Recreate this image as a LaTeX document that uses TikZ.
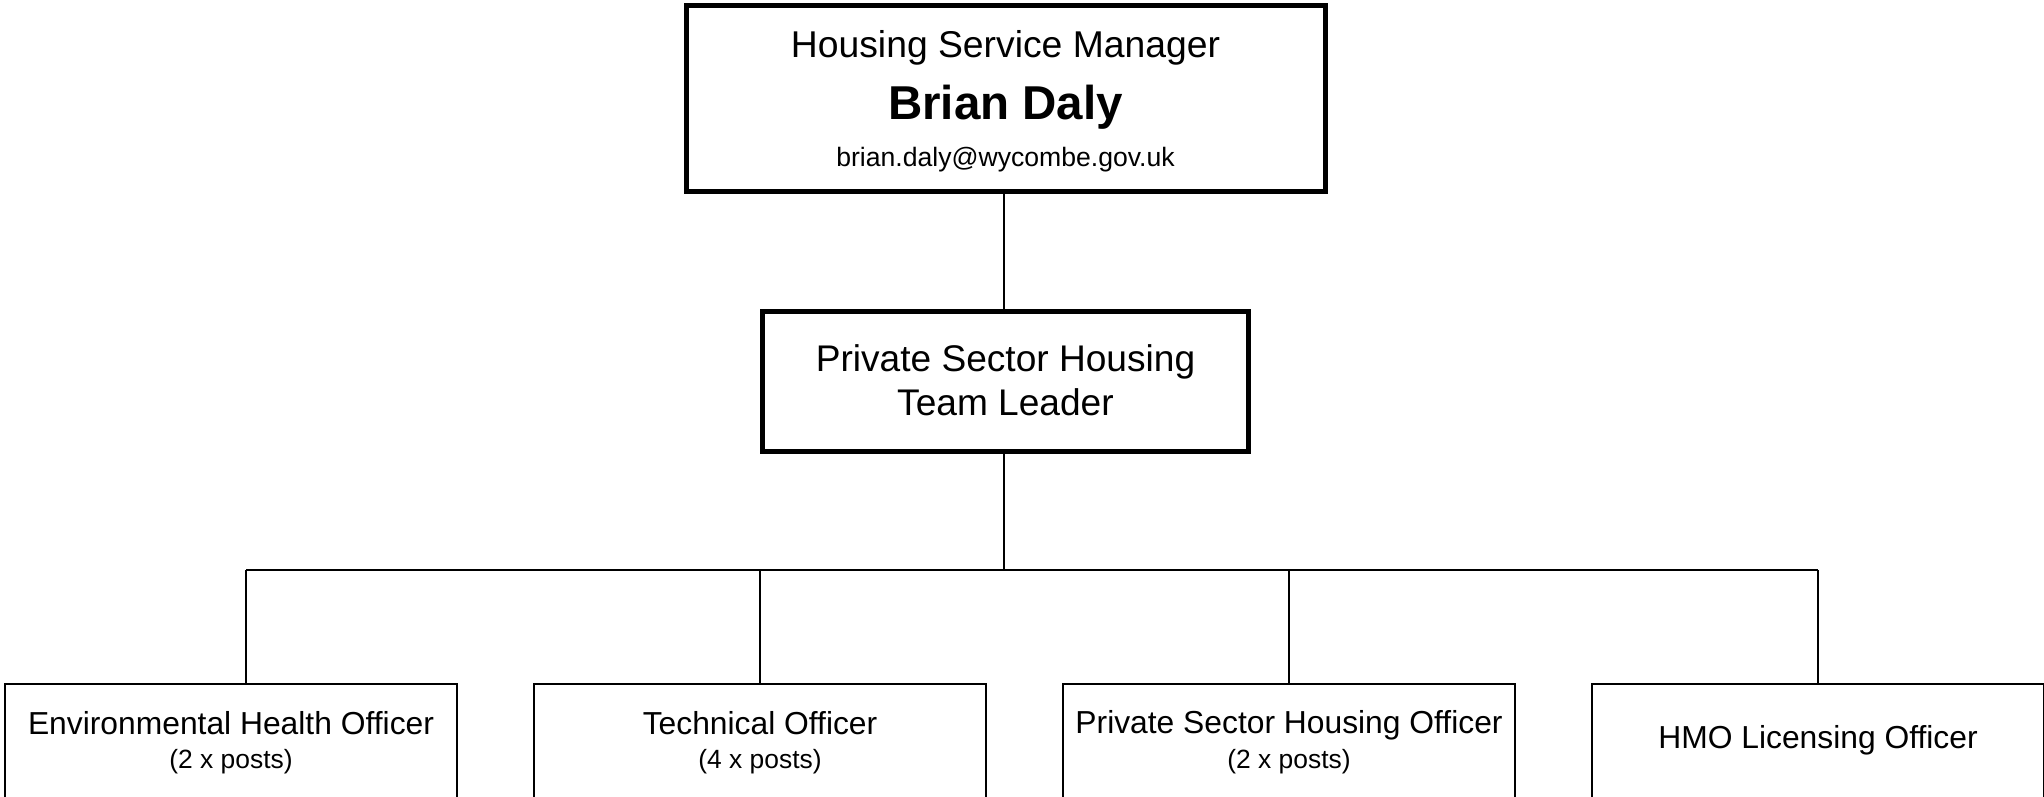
\documentclass[tikz,border=0pt]{standalone}
\usepackage{fontspec}
\setmainfont{Liberation Sans}
\begin{document}
\begin{tikzpicture}[x=1pt,y=-1pt,
  headbox/.style={draw, line width=5pt, inner sep=0pt},
  staffbox/.style={draw, line width=2pt, inner sep=0pt, minimum width=452pt, minimum height=196pt},
  txt/.style={inner sep=0pt, align=center},
  link/.style={line width=2pt}]
\useasboundingbox (0,0) rectangle (2044,797);
\begin{scope}
\clip (0,0) rectangle (2044,797);
% top box
\node[headbox, minimum width=639pt, minimum height=186pt] (top) at (1005.5,98.5) {};
\node[txt, anchor=base, font=\fontsize{37.3}{44.5}\selectfont] (t1) at (1005.5,57.5) {Housing Service Manager};
\node[txt, anchor=base, font=\fontsize{47.5}{55}\selectfont\bfseries] (t2) at (1005.5,119.5) {Brian Daly};
\node[txt, anchor=base, font=\fontsize{26.6}{32}\selectfont] (t3) at (1005.5,166.5) {brian.daly@wycombe.gov.uk};
% mid box
\node[headbox, minimum width=486pt, minimum height=140pt] (mid) at (1005.5,381.5) {};
\node[txt, font=\fontsize{37.1}{44.5}\selectfont] (m1) at (1005.5,380) {Private Sector Housing\\Team Leader};
% staff boxes
\node[staffbox] (b1) at (231,782) {};
\node[staffbox] (b2) at (760,782) {};
\node[staffbox] (b3) at (1289,782) {};
\node[staffbox] (b4) at (1818,782) {};
\node[txt, font=\fontsize{31.8}{38}\selectfont] (n1) at (231,723.5) {Environmental Health Officer};
\node[txt, font=\fontsize{26.4}{32}\selectfont] (p1) at (231,762) {(2 x posts)};
\node[txt, font=\fontsize{31.8}{38}\selectfont] (n2) at (760,723.5) {Technical Officer};
\node[txt, font=\fontsize{26.4}{32}\selectfont] (p2) at (760,762) {(4 x posts)};
\node[txt, font=\fontsize{31.8}{38}\selectfont] (n3) at (1289,725) {Private Sector Housing Officer};
\node[txt, font=\fontsize{26.4}{32}\selectfont] (p3) at (1289,762) {(2 x posts)};
\node[txt, font=\fontsize{31.8}{38}\selectfont] (n4) at (1818,740) {HMO Licensing Officer};
% connectors
\coordinate (bus) at (1004,570);
\coordinate (d1) at (246,570);
\coordinate (d2) at (760,570);
\coordinate (d3) at (1289,570);
\coordinate (d4) at (1818,570);
\draw[link] (top.south -| bus) -- (mid.north -| bus);
\draw[link] (mid.south -| bus) -- (bus);
\draw[link] (d1) -- (d4);
\draw[link] (d1) -- (d1 |- b1.north);
\draw[link] (d2) -- (b2.north);
\draw[link] (d3) -- (b3.north);
\draw[link] (d4) -- (b4.north);
\end{scope}
\end{tikzpicture}
\end{document}
